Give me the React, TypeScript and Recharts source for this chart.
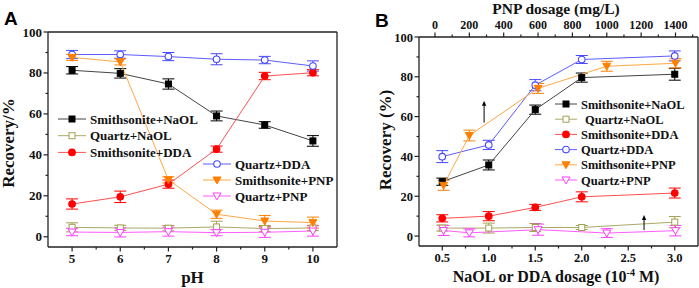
import { LineChart, Line, XAxis, YAxis, ErrorBar, ReferenceLine } from "recharts";

const FONT = "'Times New Roman', 'Liberation Serif', serif";

// ---- panel A: recovery vs pH ----
const phValues = [5, 6, 7, 8, 9, 10];
const aSmithNaOL = [81.3, 79.8, 74.6, 59.0, 54.6, 46.8];
const aSmithNaOLErr = [1.8, 2.3, 2.5, 2.4, 1.6, 2.6];
const aQuartzNaOL = [4.6, 4.3, 4.2, 4.8, 4.0, 4.3];
const aQuartzNaOLErr = [2.2, 1.3, 1.3, 2.8, 1.5, 1.3];
const aSmithDDA = [16.0, 19.5, 25.7, 42.8, 78.5, 80.1];
const aSmithDDAErr = [2.5, 2.8, 2.0, 1.5, 1.8, 1.5];
const aQuartzDDA = [89.0, 89.0, 88.0, 86.7, 86.3, 83.4];
const aQuartzDDAErr = [2.0, 1.8, 2.0, 2.7, 1.8, 2.5];
const aSmithPNP = [87.6, 85.4, 27.8, 11.0, 7.7, 6.9];
const aSmithPNPErr = [1.5, 1.5, 1.5, 2.0, 2.7, 2.7];
const aQuartzPNP = [2.3, 2.1, 2.5, 2.0, 2.2, 2.8];
const aQuartzPNPErr = [1.8, 2.2, 2.2, 1.5, 2.5, 2.5];

// ---- panel B: recovery vs collector dosage ----
const dosage = [0.5, 1.0, 1.5, 2.0, 3.0]; // 10^-4 M
const bSmithNaOL = [27.3, 35.7, 63.5, 79.6, 81.3];
const bSmithNaOLErr = [1.8, 2.5, 2.3, 2.3, 3.0];
const bQuartzNaOL = [4.0, 4.0, 4.3, 4.3, 7.0];
const bQuartzNaOLErr = [1.5, 2.5, 2.0, 1.0, 2.8];
const bSmithDDA = [8.9, 10.0, 14.4, 19.7, 21.6];
const bSmithDDAErr = [1.8, 2.3, 1.5, 2.5, 2.5];
const bQuartzDDA = [39.9, 45.8, 75.8, 88.7, 90.5];
const bQuartzDDAErr = [3.0, 2.3, 2.8, 2.0, 2.5];

const pnpDosage = [50, 200, 600, 1000, 1400]; // mg/L
const bSmithPNP = [25.5, 50.5, 74.2, 85.3, 86.8];
const bSmithPNPErr = [2.5, 2.7, 2.5, 2.5, 2.3];
const bQuartzPNP = [2.8, 1.6, 3.2, 1.5, 2.7];
const bQuartzPNPErr = [2.5, 2.0, 2.8, 2.2, 2.6];

// ticks
const yTicks = [0, 10, 20, 30, 40, 50, 60, 70, 80, 90, 100];
const phTicks = [5, 5.5, 6, 6.5, 7, 7.5, 8, 8.5, 9, 9.5, 10];
const doseTicks = [0.5, 0.75, 1, 1.25, 1.5, 1.75, 2, 2.25, 2.5, 2.75, 3];
const pnpTicks = [0, 100, 200, 300, 400, 500, 600, 700, 800, 900, 1000, 1100, 1200, 1300, 1400, 1500];

// arrows in panel B (point at the PNP axis)
const arrows = [
  { x: 0.95, from: 57, to: 68 },
  { x: 2.67, from: 3, to: 10.6 },
];

const tableA = phValues.map((ph, i) => ({
  x: ph,
  sNaOL: aSmithNaOL[i], sNaOLErr: aSmithNaOLErr[i],
  qNaOL: aQuartzNaOL[i], qNaOLErr: aQuartzNaOLErr[i],
  sDDA: aSmithDDA[i], sDDAErr: aSmithDDAErr[i],
  qDDA: aQuartzDDA[i], qDDAErr: aQuartzDDAErr[i],
  sPNP: aSmithPNP[i], sPNPErr: aSmithPNPErr[i],
  qPNP: aQuartzPNP[i], qPNPErr: aQuartzPNPErr[i],
}));

const tableB = dosage.map((d, i) => ({
  x: d,
  sNaOL: bSmithNaOL[i], sNaOLErr: bSmithNaOLErr[i],
  qNaOL: bQuartzNaOL[i], qNaOLErr: bQuartzNaOLErr[i],
  sDDA: bSmithDDA[i], sDDAErr: bSmithDDAErr[i],
  qDDA: bQuartzDDA[i], qDDAErr: bQuartzDDAErr[i],
}));
const pnpSmith = pnpDosage.map((d, i) => ({ x: d, sPNP: bSmithPNP[i], sPNPErr: bSmithPNPErr[i] }));
const pnpQuartz = pnpDosage.map((d, i) => ({ x: d, qPNP: bQuartzPNP[i], qPNPErr: bQuartzPNPErr[i] }));

const styles: any = {
  sNaOL: { name: "Smithsonite+NaOL", line: "#444", mark: "#000", shape: "square", filled: true },
  qNaOL: { name: "Quartz+NaOL", line: "#aaa866", mark: "#a3a052", shape: "square", filled: false },
  sDDA: { name: "Smithsonite+DDA", line: "#ff5050", mark: "#ff0000", shape: "circle", filled: true },
  qDDA: { name: "Quartz+DDA", line: "#5c5cff", mark: "#4848ff", shape: "circle", filled: false },
  sPNP: { name: "Smithsonite+PNP", line: "#ffa845", mark: "#ff8000", shape: "tri", filled: true },
  qPNP: { name: "Quartz+PNP", line: "#ff5cff", mark: "#ff3cff", shape: "tri", filled: false },
};

const AXIS = "#222";

function Marker({ cx, cy, shape, color, filled }: any) {
  if (cx == null || cy == null) return null;
  const fill = filled ? color : "#fff";
  if (shape === "square")
    return <rect x={cx - 3} y={cy - 3} width={6} height={6} fill={fill} stroke={color} strokeWidth={1} />;
  if (shape === "circle") return <circle cx={cx} cy={cy} r={3.3} fill={fill} stroke={color} strokeWidth={1.1} />;
  return (
    <path d={`M${cx - 4},${cy - 3}L${cx + 4},${cy - 3}L${cx},${cy + 3.9}Z`} fill={fill} stroke={color} strokeWidth={1} />
  );
}

const LeftTick = (p: any) => {
  const v = p.payload.value;
  const major = v % 20 === 0;
  return (
    <g>
      <line x1={p.x} y1={p.y} x2={p.x - (major ? 4.5 : 2.5)} y2={p.y} stroke={AXIS} strokeWidth={1.2} />
      {major && (
        <text x={p.x - 6} y={p.y + 4.5} textAnchor="end" fontFamily={FONT} fontWeight="bold" fontSize={p.fs} fill="#111">
          {v}
        </text>
      )}
    </g>
  );
};

const BottomTick = (p: any) => {
  const v = p.payload.value;
  const major = p.isMajor(v);
  return (
    <g>
      <line x1={p.x} y1={p.y} x2={p.x} y2={p.y + (major ? 4.5 : 2.5)} stroke={AXIS} strokeWidth={1.2} />
      {major && (
        <text x={p.x} y={p.y + 16} textAnchor="middle" fontFamily={FONT} fontWeight="bold" fontSize={p.fs} fill="#111">
          {p.fmt(v)}
        </text>
      )}
    </g>
  );
};

const TopTick = (p: any) => {
  const v = p.payload.value;
  const major = v % 200 === 0;
  return (
    <g>
      <line x1={p.x} y1={p.y} x2={p.x} y2={p.y - (major ? 4.5 : 2.5)} stroke={AXIS} strokeWidth={1.2} />
      {major && v <= 1400 && (
        <text x={p.x} y={p.y - 8} textAnchor="middle" fontFamily={FONT} fontWeight="bold" fontSize={p.fs} fill="#111">
          {v}
        </text>
      )}
    </g>
  );
};

const Arrow = (p: any) => (
  <g>
    <line x1={p.x1} y1={p.y1} x2={p.x2} y2={p.y2 + 4} stroke="#000" strokeWidth={1} />
    <path d={`M${p.x2 - 2.2},${p.y2 + 5}L${p.x2 + 2.2},${p.y2 + 5}L${p.x2},${p.y2}Z`} fill="#000" />
  </g>
);

const renderLine = (key: string, id: string, xId: string, extra: any = {}) => {
  const s = styles[key];
  return (
    <Line
      key={id + key}
      xAxisId={xId}
      yAxisId="l"
      type="linear"
      dataKey={key}
      stroke={s.line}
      strokeWidth={1}
      isAnimationActive={false}
      activeDot={false}
      dot={(p: any) => (
        <Marker key={`${id}-${key}-${p.index}`} cx={p.cx} cy={p.cy} shape={s.shape} color={s.mark} filled={s.filled} />
      )}
      {...extra}
    >
      <ErrorBar dataKey={key + "Err"} width={6} stroke={s.mark} strokeWidth={1} direction="y" />
    </Line>
  );
};

function LegendRows({ keys, x1, x2, y, gap, fs }: any) {
  return (
    <g>
      {keys.map((k: string, i: number) => {
        const s = styles[k];
        const ry = y + i * gap;
        return (
          <g key={k}>
            <line x1={x1} y1={ry} x2={x2} y2={ry} stroke={s.line} strokeWidth={1} />
            <Marker cx={(x1 + x2) / 2} cy={ry} shape={s.shape} color={s.mark} filled={s.filled} />
            <text x={x2 + 4 + (k === "qNaOL" && fs < 13 ? 4 : 0)} y={ry + 4.5} fontFamily={FONT} fontWeight="bold" fontSize={fs} fill="#111">
              {s.name}
            </text>
          </g>
        );
      })}
    </g>
  );
}

const seriesOrder = ["sNaOL", "qNaOL", "sDDA", "qDDA", "sPNP", "qPNP"];

export default function App() {
  const title = { fontFamily: FONT, fontWeight: "bold" as const, fill: "#111" };
  return (
    <div style={{ position: "absolute", left: 0, top: 0, width: 699, height: 288, background: "#fff" }}>
      <div style={{ position: "absolute", left: 0, top: 0 }}>
        <LineChart width={350} height={288} data={tableA} margin={{ top: 0, right: 0, bottom: 0, left: 0 }}>
          <XAxis
            xAxisId="b"
            dataKey="x"
            type="number"
            domain={[4.5, 10.5]}
            allowDataOverflow
            ticks={phTicks}
            interval={0}
            height={41}
            tickSize={0}
            tickMargin={0}
            tickLine={false}
            axisLine={{ stroke: AXIS, strokeWidth: 1.3 }}
            tick={(p: any) => <BottomTick {...p} fs={13} isMajor={(v: number) => Number.isInteger(v)} fmt={(v: number) => v} />}
          />
          <XAxis xAxisId="t" orientation="top" type="number" domain={[0, 1]} height={32} tick={false} tickLine={false} axisLine={{ stroke: AXIS, strokeWidth: 1.3 }} />
          <YAxis
            yAxisId="l"
            type="number"
            domain={[-5, 100]}
            allowDataOverflow
            ticks={yTicks}
            interval={0}
            width={48}
            tickSize={0}
            tickMargin={0}
            tickLine={false}
            axisLine={{ stroke: AXIS, strokeWidth: 1.3 }}
            tick={(p: any) => <LeftTick {...p} fs={13} />}
          />
          <YAxis yAxisId="r" orientation="right" type="number" domain={[0, 1]} width={13} tick={false} tickLine={false} axisLine={{ stroke: AXIS, strokeWidth: 1.3 }} />
          {seriesOrder.map((k) => renderLine(k, "a", "b"))}
        </LineChart>
      </div>

      <div style={{ position: "absolute", left: 350, top: 0 }}>
        <LineChart width={349} height={288} data={tableB} margin={{ top: 0, right: 0, bottom: 0, left: 0 }}>
          <XAxis
            xAxisId="b"
            dataKey="x"
            type="number"
            domain={[0.25, 3.25]}
            allowDataOverflow
            ticks={doseTicks}
            interval={0}
            height={42}
            tickSize={0}
            tickMargin={0}
            tickLine={false}
            axisLine={{ stroke: AXIS, strokeWidth: 1.3 }}
            tick={(p: any) => (
              <BottomTick {...p} fs={12.5} isMajor={(v: number) => Number.isInteger(v * 2)} fmt={(v: number) => v.toFixed(1)} />
            )}
          />
          <XAxis
            xAxisId="t"
            orientation="top"
            dataKey="x"
            type="number"
            domain={[-93, 1531]}
            allowDataOverflow
            ticks={pnpTicks}
            interval={0}
            height={37}
            tickSize={0}
            tickMargin={0}
            tickLine={false}
            axisLine={{ stroke: AXIS, strokeWidth: 1.3 }}
            tick={(p: any) => <TopTick {...p} fs={12} />}
          />
          <YAxis
            yAxisId="l"
            type="number"
            domain={[-5, 100]}
            allowDataOverflow
            ticks={yTicks}
            interval={0}
            width={69}
            tickSize={0}
            tickMargin={0}
            tickLine={false}
            axisLine={{ stroke: AXIS, strokeWidth: 1.3 }}
            tick={(p: any) => <LeftTick {...p} fs={12.5} />}
          />
          <YAxis yAxisId="r" orientation="right" type="number" domain={[0, 1]} width={1} tick={false} tickLine={false} axisLine={{ stroke: AXIS, strokeWidth: 1.3 }} />
          {renderLine("sNaOL", "b", "b")}
          {renderLine("qNaOL", "b", "b")}
          {renderLine("sDDA", "b", "b")}
          {renderLine("qDDA", "b", "b")}
          {renderLine("sPNP", "b", "t", { data: pnpSmith })}
          {renderLine("qPNP", "b", "t", { data: pnpQuartz })}
          {arrows.map((a, i) => (
            <ReferenceLine
              key={"arrow" + i}
              xAxisId="b"
              yAxisId="l"
              segment={[{ x: a.x, y: a.from }, { x: a.x, y: a.to }]}
              stroke="#000"
              shape={Arrow}
            />
          ))}
        </LineChart>
      </div>

      <svg width={699} height={288} style={{ position: "absolute", left: 0, top: 0, pointerEvents: "none" }}>
        <text x={4} y={25} fontFamily="Arial, 'Liberation Sans', sans-serif" fontWeight="bold" fontSize={19} fill="#000">A</text>
        <text x={375} y={27} fontFamily="Arial, 'Liberation Sans', sans-serif" fontWeight="bold" fontSize={19} fill="#000">B</text>

        <text x={192.5} y={283} textAnchor="middle" fontSize={17} {...title}>pH</text>
        <text transform="translate(13.5,143) rotate(-90)" textAnchor="middle" fontSize={17} {...title}>Recovery/%</text>

        <text x={556} y={14} textAnchor="middle" fontSize={15.5} {...title}>PNP dosage (mg/L)</text>
        <text x={556} y={282} textAnchor="middle" fontSize={16} {...title}>
          NaOL or DDA dosage (10
          <tspan dy={-6} fontSize={10}>-4</tspan>
          <tspan dy={6}> M)</tspan>
        </text>
        <text transform="translate(391,140) rotate(-90)" textAnchor="middle" fontSize={17} {...title}>Recovery (%)</text>

        <LegendRows keys={["sNaOL", "qNaOL", "sDDA"]} x1={58} x2={86} y={119} gap={16.7} fs={13} />
        <LegendRows keys={["qDDA", "sPNP", "qPNP"]} x1={203} x2={231} y={164} gap={16} fs={13} />
        <LegendRows keys={seriesOrder} x1={555} x2={577} y={104} gap={15.2} fs={12.5} />
      </svg>
    </div>
  );
}
